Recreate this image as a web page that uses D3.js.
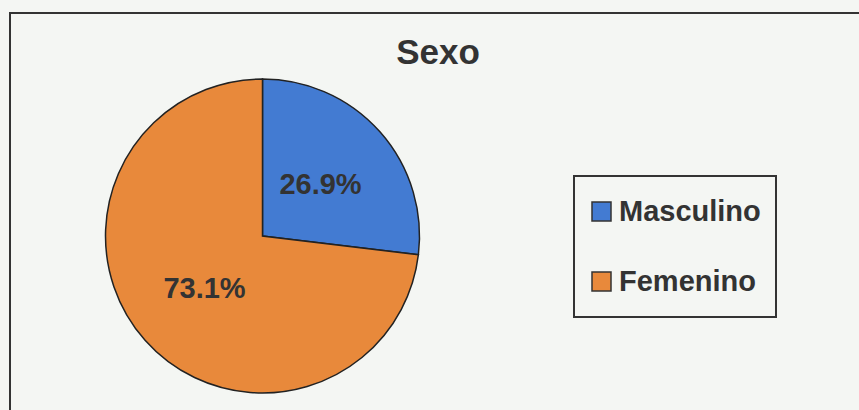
<!DOCTYPE html>
<html>
<head>
<meta charset="utf-8">
<script src="https://cdn.jsdelivr.net/npm/d3@7"></script>
<style>
  html, body { margin: 0; padding: 0; background: #f4f6f3; }
  svg { display: block; }
</style>
</head>
<body>
<div id="chart"></div>
<script>
// datos
var categories = ["Masculino", "Femenino"];
var values = [26.9, 73.1];
var colors = ["#437bd2", "#e8893b"];

var width = 859, height = 410;
var svg = d3.select("#chart").append("svg")
    .attr("width", width)
    .attr("height", height);

svg.append("rect")
    .attr("width", width).attr("height", height)
    .attr("fill", "#f4f6f3");

// borde del grafico (solo arriba e izquierda visibles)
svg.append("path")
    .attr("d", "M10," + height + "V13H" + width)
    .attr("fill", "none")
    .attr("stroke", "#333")
    .attr("stroke-width", 2);

// titulo
svg.append("text")
    .attr("x", 438).attr("y", 64)
    .attr("text-anchor", "middle")
    .style("font-family", "Liberation Sans, Arial, sans-serif")
    .style("font-weight", "bold")
    .style("font-size", "35px")
    .attr("fill", "#333")
    .text("Sexo");

// pie
var cx = 262.5, cy = 236, r = 157;
var data = categories.map(function(c, i) { return {name: c, value: values[i], color: colors[i]}; });
var pie = d3.pie().sort(null).value(function(d) { return d.value; });
var arc = d3.arc().innerRadius(0).outerRadius(r);

var pie_g = svg.append("g").attr("transform", "translate(" + cx + "," + cy + ")");
var arcs = pie(data);

pie_g.selectAll("path")
    .data(arcs)
    .enter()
    .append("path")
    .attr("d", arc)
    .attr("fill", function(d) { return d.data.color; })
    .attr("stroke", "#222")
    .attr("stroke-width", 1.5);

// etiquetas
var labelPos = [[58, -52], [-58, 52]];
pie_g.selectAll("text")
    .data(arcs)
    .enter()
    .append("text")
    .attr("x", function(d, i) { return labelPos[i][0]; })
    .attr("y", function(d, i) { return labelPos[i][1]; })
    .attr("text-anchor", "middle")
    .attr("dominant-baseline", "central")
    .style("font-family", "Liberation Sans, Arial, sans-serif")
    .style("font-weight", "bold")
    .style("font-size", "29px")
    .attr("fill", "#333")
    .text(function(d) { return d.data.value.toFixed(1) + "%"; });

// leyenda
var legend_g = svg.append("g").attr("transform", "translate(574,176)");
legend_g.append("rect")
    .attr("width", 202).attr("height", 141)
    .attr("fill", "none")
    .attr("stroke", "#333")
    .attr("stroke-width", 2);

var item = legend_g.selectAll(".item")
    .data(data)
    .enter()
    .append("g")
    .attr("class", "item")
    .attr("transform", function(d, i) { return "translate(18," + (26 + i * 70) + ")"; });

item.append("rect")
    .attr("width", 19).attr("height", 19)
    .attr("fill", function(d) { return d.color; })
    .attr("stroke", "#333")
    .attr("stroke-width", 1.5);

item.append("text")
    .attr("x", 27).attr("y", 19)
    .style("font-family", "Liberation Sans, Arial, sans-serif")
    .style("font-weight", "bold")
    .style("font-size", "29px")
    .attr("fill", "#333")
    .text(function(d) { return d.name; });
</script>
</body>
</html>
